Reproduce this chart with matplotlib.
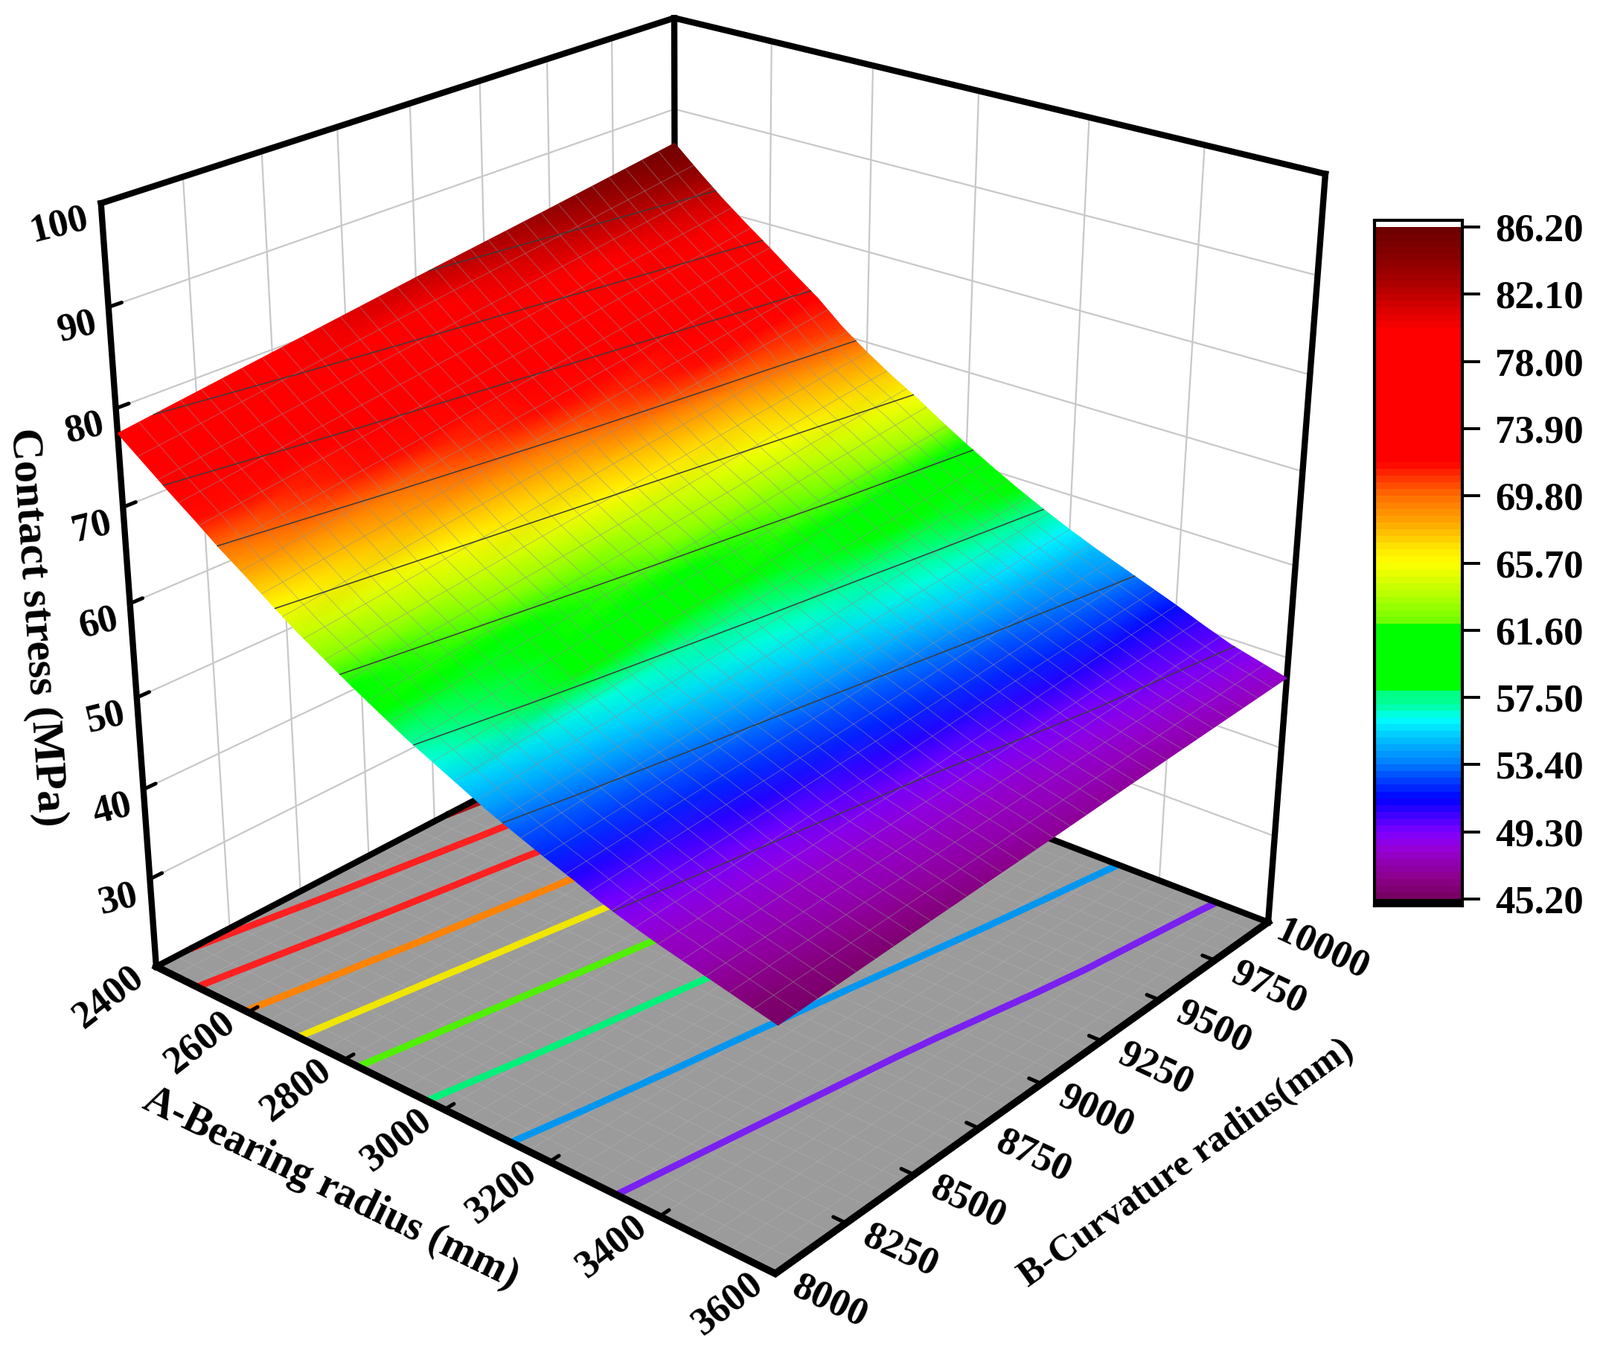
import numpy as np
import matplotlib
matplotlib.use("Agg")
import matplotlib.pyplot as plt
from matplotlib.colors import LinearSegmentedColormap, Normalize
from mpl_toolkits.mplot3d import proj3d
from contourpy import contour_generator

W, H = 2150, 1822
plt.rcParams["font.family"] = ["Liberation Serif", "DejaVu Serif"]
plt.rcParams["font.weight"] = "bold"

# ── Data ───────────────────────────────────────────────────
A_VALUES = [2400, 2450, 2500, 2550, 2600, 2650, 2700, 2750, 2800, 2850, 2900, 2950, 3000,
            3050, 3100, 3150, 3200, 3250, 3300, 3350, 3400, 3450, 3500, 3550, 3600]
B_VALUES = [8000, 8500, 9000, 9500, 10000]
Z_B8000 = [77.5, 75.5, 73.5, 71.6, 69.6, 67.8, 65.9, 64.1, 62.5, 60.9, 59.4, 57.9, 56.6,
           55.3, 54.0, 52.9, 51.8, 50.8, 49.7, 48.8, 48.0, 47.3, 46.6, 45.9, 45.2]
Z_B8500 = [79.7, 77.6, 75.5, 73.6, 71.6, 69.7, 67.8, 65.8, 64.1, 62.5, 60.9, 59.4, 58.0,
           56.6, 55.2, 54.1, 52.9, 51.9, 50.8, 49.6, 48.7, 48.0, 47.3, 46.6, 45.9]
Z_B9000 = [81.9, 79.7, 77.5, 75.5, 73.5, 71.6, 69.6, 67.5, 65.7, 64.0, 62.5, 60.8, 59.3,
           57.9, 56.5, 55.2, 54.0, 52.9, 51.8, 50.6, 49.5, 48.7, 48.0, 47.3, 46.5]
Z_B9500 = [84.0, 81.7, 79.5, 77.5, 75.5, 73.4, 71.5, 69.2, 67.3, 65.6, 64.0, 62.3, 60.7,
           59.1, 57.7, 56.4, 55.1, 54.0, 52.9, 51.8, 50.7, 49.6, 48.7, 47.9, 47.2]
Z_B10000 = [86.2, 83.8, 81.5, 79.4, 77.4, 75.3, 73.3, 70.9, 68.9, 67.1, 65.5, 63.7, 62.0,
            60.4, 58.9, 57.5, 56.2, 55.0, 53.9, 52.8, 51.7, 50.5, 49.4, 48.6, 47.8]

A_TICKS = [2400, 2600, 2800, 3000, 3200, 3400, 3600]
B_TICKS = [8000, 8250, 8500, 8750, 9000, 9250, 9500, 9750, 10000]
Z_TICKS = [30, 40, 50, 60, 70, 80, 90, 100]
CB_TICKS = [45.2, 49.3, 53.4, 57.5, 61.6, 65.7, 69.8, 73.9, 78.0, 82.1, 86.2]
LEVELS = [49.3, 53.4, 57.5, 61.6, 65.7, 69.8, 73.9, 78.0, 82.1]
FLOOR_LINE_COLORS = ["#7a20f0", "#0096f0", "#00f07a", "#50f000", "#f0e600",
                     "#ff8200", "#ff2020", "#ff2020", "#aa1414"]

CMAP_VALUES = [45.2, 46.3, 48.0, 49.1, 51.2, 53.4, 54.8, 56.1, 57.0, 57.9, 57.95, 62.0, 62.05, 64.2,
               65.7, 66.6, 68.1, 69.8, 71.0, 71.9, 80.0, 82.6, 84.3, 86.2]
CMAP_COLORS = ["#780064", "#8c008c", "#9600d2", "#8000ff", "#0000ff", "#0080ff", "#00beff", "#00ffff",
               "#00ff96", "#00ff80", "#00ff00", "#00ff00", "#6eff00", "#c8ff00",
               "#ffff00", "#ffe600", "#ffaa00", "#ff6e00", "#ff3200", "#ff0000", "#ff0000", "#b40000",
               "#8c0000", "#6e0000"]

Z_FLOOR, Z_TOP = 20, 100
A_MIN, A_MAX = A_VALUES[0], A_VALUES[-1]
B_MIN, B_MAX = B_VALUES[0], B_VALUES[-1]

# ── Camera ─────────────────────────────────────────────────
SCALE, X0, Y0 = 10114.422, 967.302, 785.330

fig = plt.figure(figsize=(W / 100, H / 100), dpi=100, facecolor="white")
ax3 = fig.add_axes([0, 0, 1, 1], projection="3d")
ax3.set_xlim3d(A_MIN, A_MAX)
ax3.set_ylim3d(B_MIN, B_MAX)
ax3.set_zlim3d(Z_FLOOR, Z_TOP)
ax3.view_init(elev=24.8407, azim=-49.9687, roll=-0.1814)
ax3.set_proj_type("persp", focal_length=0.4813)
ax3.set_box_aspect((1.0047, 1.0, 1.0072))
M = ax3.get_proj()
ax3.set_visible(False)


def project(a, b, z):
    a, b, z = np.broadcast_arrays(np.asarray(a, float), np.asarray(b, float), np.asarray(z, float))
    shape = a.shape
    xp, yp, _ = proj3d.proj_transform(a.ravel(), b.ravel(), z.ravel(), M)
    return (SCALE * np.asarray(xp) + X0).reshape(shape), (Y0 - SCALE * np.asarray(yp)).reshape(shape)


ax = fig.add_axes([0, 0, 1, 1])
ax.set_xlim(0, W)
ax.set_ylim(H, 0)
ax.axis("off")


def line3(a, b, z, **kw):
    px, py = project(a, b, z)
    ax.plot(px, py, **kw)


cmap = LinearSegmentedColormap.from_list(
    "stress", [((v - 45.2) / 41.0, c) for v, c in zip(CMAP_VALUES, CMAP_COLORS)], N=100)
norm = Normalize(45.2, 86.2)

# walls
GRID = dict(color="#c8c8c8", lw=1.6, zorder=1, solid_capstyle="butt")
for z in Z_TICKS[:-1]:
    line3([A_MIN, A_MIN], [B_MIN, B_MAX], [z, z], **GRID)
    line3([A_MIN, A_MAX], [B_MAX, B_MAX], [z, z], **GRID)
for b in B_TICKS[1:-1]:
    line3([A_MIN, A_MIN], [b, b], [Z_FLOOR, Z_TOP], **GRID)
for a in A_TICKS[1:-1]:
    line3([a, a], [B_MAX, B_MAX], [Z_FLOOR, Z_TOP], **GRID)

# floor
fx, fy = project([A_MIN, A_MAX, A_MAX, A_MIN], [B_MIN, B_MIN, B_MAX, B_MAX], [Z_FLOOR] * 4)
ax.fill(fx, fy, color="#9b9b9b", zorder=2, lw=0)
FINE = dict(color="#a9a9a9", lw=0.6, zorder=2.1)
MESH_A = np.arange(A_MIN + 40, A_MAX, 40)
MESH_B = np.arange(B_MIN + 2000 / 30, B_MAX - 1, 2000 / 30)
for a in MESH_A:
    line3([a, a], [B_MIN, B_MAX], [Z_FLOOR, Z_FLOOR], **FINE)
for b in MESH_B:
    line3([A_MIN, A_MAX], [b, b], [Z_FLOOR, Z_FLOOR], **FINE)

Z = np.array([Z_B8000, Z_B8500, Z_B9000, Z_B9500, Z_B10000])
AA, BB = np.meshgrid(A_VALUES, B_VALUES)
gen = contour_generator(x=AA, y=BB, z=Z)
for level, col in zip(LEVELS, FLOOR_LINE_COLORS):
    for seg in gen.lines(level):
        line3(seg[:, 0], seg[:, 1], Z_FLOOR, color=col, lw=6.5, zorder=2.5, solid_capstyle="butt")

# frame
FRAME = dict(color="black", lw=6, zorder=3, solid_capstyle="projecting", solid_joinstyle="miter")
line3([A_MIN, A_MIN, A_MAX], [B_MIN, B_MAX, B_MAX], [Z_FLOOR] * 3, **FRAME)
line3([A_MIN, A_MIN, A_MAX], [B_MIN, B_MAX, B_MAX], [Z_TOP] * 3, **FRAME)
for a, b in [(A_MIN, B_MIN), (A_MIN, B_MAX), (A_MAX, B_MAX)]:
    line3([a, a], [b, b], [Z_FLOOR, Z_TOP], **FRAME)
line3([A_MIN, A_MAX, A_MAX], [B_MIN, B_MIN, B_MAX], [Z_FLOOR] * 3,
      **{**FRAME, "lw": 7})

# ticks and labels
TICK = dict(color="black", lw=3.6, zorder=3, solid_capstyle="round")
for a in A_TICKS:
    if A_MIN < a < A_MAX:
        line3([a, a], [B_MIN, B_MIN + 32], [Z_FLOOR, Z_FLOOR], **TICK)
    px, py = project(a, B_MIN, Z_FLOOR)
    ax.text(px - 64, py + 41, str(a), rotation=38, ha="center", va="center", fontsize=38, zorder=6)
for b in B_TICKS:
    if B_MIN < b < B_MAX:
        line3([A_MAX, A_MAX - 22], [b, b], [Z_FLOOR, Z_FLOOR], **TICK)
    px, py = project(A_MAX, b, Z_FLOOR)
    ax.text(px + 73, py + 38, str(b), rotation=-25, ha="center", va="center", fontsize=38, zorder=6)
for z in Z_TICKS:
    if z < Z_TOP:
        line3([A_MIN, A_MIN], [B_MIN, B_MIN + 40], [z, z], **TICK)
    px, py = project(A_MIN, B_MIN, z)
    dx, dy = (-56, 29) if z == 100 else (-42, 27)
    ax.text(px + dx, py + dy, str(z), rotation=14, ha="center", va="center", fontsize=38, zorder=6)

ax.text(445, 1597, "A-Bearing radius (mm)", rotation=-26, ha="center", va="center", fontsize=40, zorder=6)
ax.text(1595, 1563, "B-Curvature radius(mm)", rotation=35.5, ha="center", va="center", fontsize=36, zorder=6)
ax.text(49, 843, "Contact stress (MPa)", rotation=-86, ha="center", va="center", fontsize=43, zorder=6)

# surface
SX, SY = project(AA, BB, Z)
ax.pcolormesh(SX, SY, Z, shading="gouraud", cmap=cmap, norm=norm, zorder=4, antialiased=True)
MESH = dict(color="#909090", alpha=0.55, lw=0.7, zorder=4.2)
for a in MESH_A:
    col = np.array([np.interp(a, A_VALUES, Z[i, :]) for i in range(len(B_VALUES))])
    line3(a, B_VALUES, col, **MESH)
for b in MESH_B:
    col = np.array([np.interp(b, B_VALUES, Z[:, j]) for j in range(len(A_VALUES))])
    line3(A_VALUES, b, col, **MESH)
for level in LEVELS:
    for seg in gen.lines(level):
        line3(seg[:, 0], seg[:, 1], level, color="#3c3c3c", lw=1.1, zorder=4.5)

# colour bar
ax_cb = fig.add_axes([1846.5 / W, 1 - 1216.5 / H, 118.5 / W, 920 / H])
ys = np.linspace(45.2, 86.2, 101)
ax_cb.pcolormesh([0, 1], ys, ((ys[:-1] + ys[1:]) / 2)[:, None], cmap=cmap, norm=norm)
per_px = 41.0 / (1208 - 305)
ax_cb.set_xlim(0, 1)
ax_cb.set_ylim(45.2 - 8.5 * per_px, 86.2 + 8.5 * per_px)
ax_cb.axhspan(45.2 - 8.5 * per_px, 45.2, color="black")
ax_cb.set_xticks([])
ax_cb.yaxis.tick_right()
ax_cb.set_yticks(CB_TICKS, [f"{v:.2f}" for v in CB_TICKS])
ax_cb.tick_params(axis="y", length=17, width=2.8, pad=15, labelsize=38)
for s in ax_cb.spines.values():
    s.set_linewidth(3)

fig.savefig("out.png", dpi=100, facecolor="white")
